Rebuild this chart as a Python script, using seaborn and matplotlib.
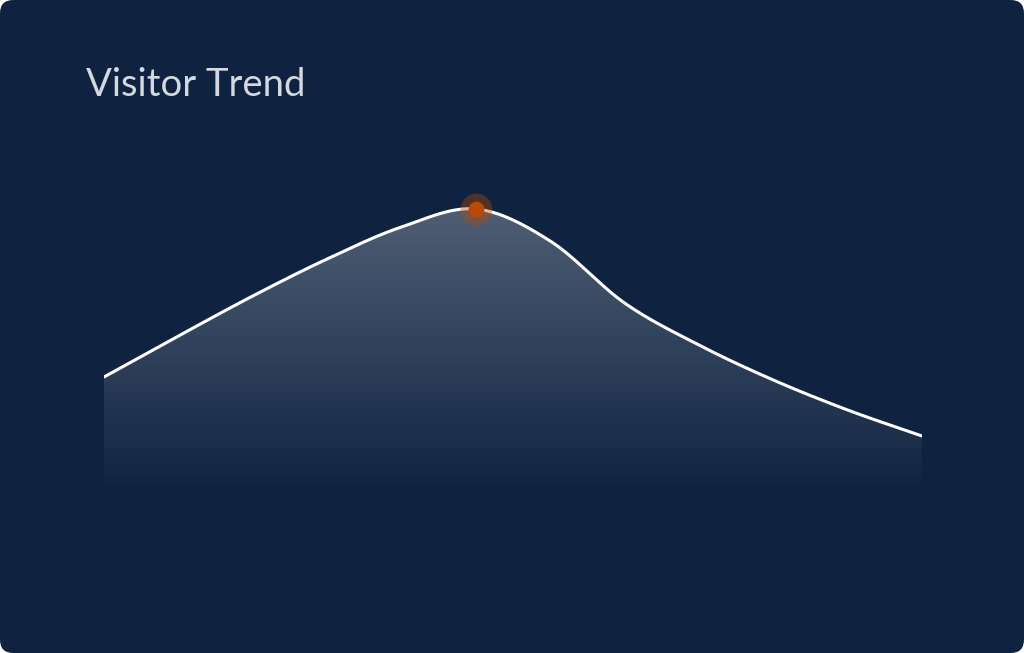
import numpy as np
import pandas as pd
import seaborn as sns
import matplotlib.pyplot as plt
from matplotlib.patches import FancyBboxPatch

# monthly visitors
months = ["Jan", "Feb", "Mar", "Apr", "May", "Jun",
          "Jul", "Aug", "Sep", "Oct", "Nov", "Dec"]
visitors = [1180, 1590, 1990, 2360, 2680, 2860,
            2540, 1920, 1500, 1150, 850, 590]

title = "Visitor Trend"
bg = "#0f2341"
line_color = "#ffffff"
peak_color = "#b84a03"


def smooth_curve(x, y, n=40):
    # catmull-rom drawing through the points, only used to render the line smoothly
    x = np.asarray(x, float)
    y = np.asarray(y, float)
    h = np.diff(x)
    t = np.zeros(len(x))
    t[1:-1] = (y[2:] - y[:-2]) / (x[2:] - x[:-2])
    t[0] = (y[1] - y[0]) / h[0]
    t[-1] = (y[-1] - y[-2]) / h[-1]
    xs, ys = [], []
    for i in range(len(x) - 1):
        u = np.linspace(0, 1, n, endpoint=(i == len(x) - 2))
        h00 = 2 * u**3 - 3 * u**2 + 1
        h10 = u**3 - 2 * u**2 + u
        h01 = -2 * u**3 + 3 * u**2
        h11 = u**3 - u**2
        xs.append(x[i] + u * h[i])
        ys.append(h00 * y[i] + h10 * h[i] * t[i] + h01 * y[i + 1] + h11 * h[i] * t[i + 1])
    return np.concatenate(xs), np.concatenate(ys)


df = pd.DataFrame({"month": months, "visitors": visitors})
df["idx"] = np.arange(len(df))
cx, cy = smooth_curve(df["idx"], df["visitors"])
curve = pd.DataFrame({"idx": cx, "visitors": cy})

sns.set_style("white")
plt.rcParams["font.family"] = ["Lato", "DejaVu Sans"]

W, H = 1024, 653
fig = plt.figure(figsize=(W / 100, H / 100), dpi=100)
fig.patch.set_facecolor("white")
card = FancyBboxPatch((0, 0), 1, 1, boxstyle="round,pad=0,rounding_size=0.013",
                      transform=fig.transFigure, facecolor=bg, edgecolor="none",
                      mutation_aspect=W / H, zorder=-10)
fig.patches.append(card)

ax = fig.add_axes([104 / W, (H - 495) / H, 818 / W, 345 / H])
ax.set_facecolor("none")
ax.set_zorder(5)

ymax = 3450
ax.set_xlim(0, len(months) - 1)
ax.set_ylim(0, ymax)

# gradient fill under the curve
top = max(visitors)
grad = np.zeros((256, 2, 4))
grad[..., :3] = 1.0
grad[..., 3] = np.linspace(0.27, 0.0, 256)[:, None]
im = ax.imshow(grad, extent=[0, len(months) - 1, 0, top], origin="upper",
               aspect="auto", zorder=1, interpolation="bilinear")
poly = ax.fill_between(curve["idx"], curve["visitors"], 0, color="none", lw=0)
im.set_clip_path(poly.get_paths()[0], transform=ax.transData)

sns.lineplot(data=curve, x="idx", y="visitors", ax=ax, color=line_color,
             linewidth=2.2, zorder=3, sort=False)

# peak highlight
peak = int(np.argmax(visitors))
ax.scatter([peak], [visitors[peak]], s=520, color=peak_color, alpha=0.38,
           linewidths=0, zorder=4, clip_on=False)
ax.scatter([peak], [visitors[peak]], s=130, color=peak_color,
           linewidths=0, zorder=5, clip_on=False)

ax.set_axis_off()

fig.text(86 / W, 1 - 96 / H, title, fontsize=27.5, color="#d3d8e1",
         ha="left", va="baseline")

fig.savefig("out.png", dpi=100, facecolor=fig.get_facecolor())
